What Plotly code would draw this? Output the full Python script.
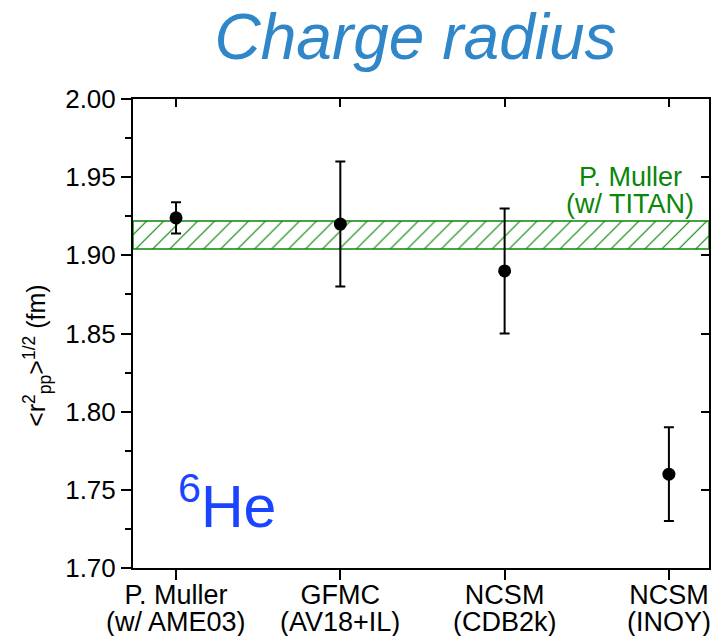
import plotly.graph_objects as go

categories_line1 = ["P. Muller", "GFMC", "NCSM", "NCSM"]
categories_line2 = ["(w/ AME03)", "(AV18+IL)", "(CDB2k)", "(INOY)"]
radius = [1.924, 1.920, 1.890, 1.760]
radius_err = [0.010, 0.040, 0.040, 0.030]
band_low = 1.904
band_high = 1.922
y_ticks = [1.70, 1.75, 1.80, 1.85, 1.90, 1.95, 2.00]

xpos = list(range(len(categories_line1)))
XMIN, XMAX = -0.262, 3.244
FONT = "Liberation Sans, Arial, sans-serif"
GREEN = "#0a860a"

fig = go.Figure()

# hatched band
fig.add_trace(go.Scatter(
    x=[XMIN, XMAX, XMAX, XMIN, XMIN],
    y=[band_low, band_low, band_high, band_high, band_low],
    mode="lines", fill="toself", fillcolor="white",
    fillpattern=dict(shape="/", fgcolor=GREEN, bgcolor="white", size=12, solidity=0.1, fgopacity=1),
    line=dict(color=GREEN, width=1.5), hoverinfo="skip", showlegend=False,
))

fig.add_trace(go.Scatter(
    x=xpos, y=radius, mode="markers",
    marker=dict(color="black", size=13),
    error_y=dict(type="data", array=radius_err, color="black", thickness=2, width=5),
    showlegend=False,
))

# invisible trace for mirrored axes
fig.add_trace(go.Scatter(x=xpos, y=radius, xaxis="x2", yaxis="y2", mode="markers",
                         marker=dict(opacity=0), hoverinfo="skip", showlegend=False))

fig.update_layout(
    width=714, height=636,
    margin=dict(l=133, r=5, t=99, b=68),
    paper_bgcolor="white", plot_bgcolor="white",
    font=dict(family=FONT, size=25, color="black"),
    title=dict(text="<i>Charge radius</i>", x=0.582, xanchor="center", y=0.942, yanchor="middle",
               font=dict(family=FONT, size=64, color="#2f86c8")),
    xaxis=dict(range=[XMIN, XMAX], tickvals=xpos, ticktext=categories_line1,
               ticks="outside", ticklen=10, tickwidth=2, tickcolor="black",
               ticklabelstandoff=-8,
               showline=True, linecolor="black", linewidth=2, showgrid=False, zeroline=False,
               tickfont=dict(size=27)),
    yaxis=dict(range=[1.70, 2.00], tickvals=y_ticks, ticktext=[f"{v:.2f}" for v in y_ticks],
               ticks="outside", ticklen=10, tickwidth=2, tickcolor="black",
               minor=dict(ticks="outside", ticklen=6, tickwidth=2, tickcolor="black",
                          tickvals=[1.725, 1.775, 1.825, 1.875, 1.925, 1.975]),
               showline=True, linecolor="black", linewidth=2, showgrid=False, zeroline=False,
               tickfont=dict(size=26)),
    xaxis2=dict(range=[XMIN, XMAX], tickvals=xpos, showticklabels=False, overlaying="x",
                side="top", anchor="y", ticks="inside", ticklen=8, tickwidth=2,
                tickcolor="black", showline=True, linecolor="black", linewidth=2,
                showgrid=False, zeroline=False),
    yaxis2=dict(range=[1.70, 2.00], tickvals=y_ticks, showticklabels=False, overlaying="y",
                side="right", anchor="x", ticks="inside", ticklen=8, tickwidth=2,
                tickcolor="black", showline=True, linecolor="black", linewidth=2,
                showgrid=False, zeroline=False),
)

for x, t in zip(xpos, categories_line2):
    fig.add_annotation(x=x, xref="x", y=0, yref="paper", text=t, showarrow=False,
                       yanchor="top", yshift=-37, font=dict(size=27, color="black"))

# y-axis title
fig.add_annotation(x=-0.167, xref="paper", y=0.452, yref="paper", textangle=-90,
                   text="&lt;r<sup>2</sup><sub>pp</sub>&gt;<sup>1/2</sup> (fm)",
                   showarrow=False, xanchor="center", yanchor="middle",
                   font=dict(size=25, color="black"))

fig.add_annotation(x=0.863, xref="paper", y=1.950, yref="y", text="P. Muller", showarrow=False,
                   xanchor="center", font=dict(size=27, color=GREEN))
fig.add_annotation(x=0.863, xref="paper", y=1.933, yref="y", text="(w/ TITAN)", showarrow=False,
                   xanchor="center", font=dict(size=27, color=GREEN))

fig.add_annotation(x=0.075, xref="paper", y=1.742, yref="y", text="<sup>6</sup>He",
                   showarrow=False, xanchor="left", font=dict(size=59, color="#1a44ff"))

fig.write_html("out.html")
